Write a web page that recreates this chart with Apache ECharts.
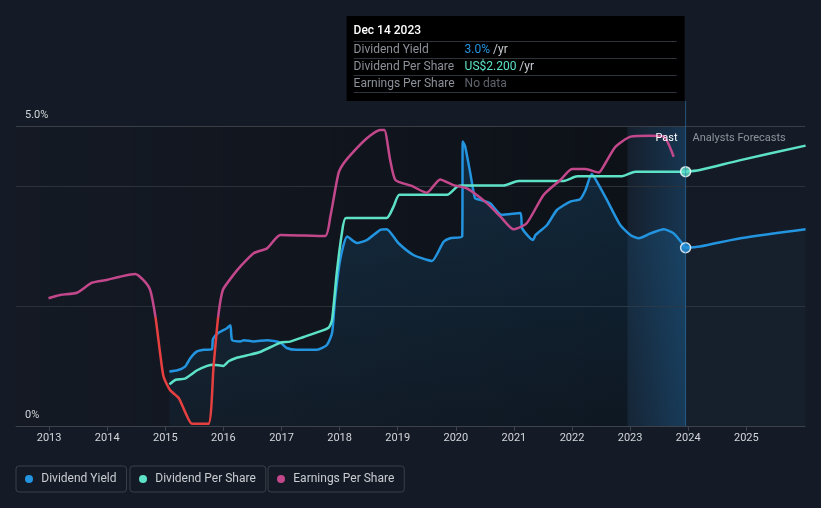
<!DOCTYPE html>
<html>
<head>
<meta charset="utf-8">
<script src="https://cdn.jsdelivr.net/npm/echarts@6/dist/echarts.min.js"></script>
<style>
html,body{margin:0;padding:0;background:#151b26;}
#chart{width:821px;height:508px;}
</style>
</head>
<body>
<div id="chart"></div>
<script>
// ---------- data ----------
const yearTicks = [2013,2014,2015,2016,2017,2018,2019,2020,2021,2022,2023,2024,2025];
const yieldTickLabels = {0: '0%', 5: '5.0%'};

const yieldYears = [2015.07,2015.21,2015.34,2015.43,2015.54,2015.66,2015.80,2015.82,2015.91,2016.06,2016.12,2016.15,2016.29,2016.35,2016.52,2016.75,2016.98,2017.09,2017.26,2017.61,2017.78,2017.87,2017.92,2018.01,2018.13,2018.30,2018.47,2018.70,2018.81,2019.01,2019.27,2019.50,2019.59,2019.79,2019.90,2020.11,2020.12,2020.16,2020.25,2020.33,2020.42,2020.59,2020.79,2021.11,2021.14,2021.25,2021.33,2021.37,2021.57,2021.74,2021.97,2022.14,2022.23,2022.34,2022.43,2022.60,2022.83,2023.01,2023.15,2023.35,2023.58,2023.75,2023.955];
const yieldValues = [0.91,0.93,0.99,1.13,1.24,1.27,1.28,1.45,1.55,1.63,1.68,1.43,1.41,1.43,1.41,1.43,1.39,1.30,1.27,1.27,1.35,1.55,2.10,2.77,3.16,3.05,3.10,3.27,3.28,3.05,2.85,2.77,2.75,3.07,3.13,3.16,4.74,4.66,4.21,3.80,3.77,3.71,3.52,3.55,3.30,3.16,3.10,3.18,3.35,3.60,3.74,3.78,3.93,4.20,4.07,3.77,3.35,3.18,3.13,3.21,3.28,3.21,2.97];
const yieldForecastYears = [2023.955,2024.20,2024.90,2026.02];
const yieldForecastValues = [2.97,2.99,3.13,3.28];

const dpsYears = [2015.07,2015.18,2015.34,2015.46,2015.54,2015.72,2015.83,2016.00,2016.09,2016.23,2016.40,2016.63,2016.98,2017.15,2017.38,2017.61,2017.81,2017.87,2017.95,2018.04,2018.11,2018.81,2018.93,2019.03,2019.85,2020.02,2020.11,2020.82,2021.08,2021.86,2022.09,2022.86,2023.09,2023.955];
const dpsValues = [0.36,0.40,0.41,0.45,0.48,0.52,0.53,0.52,0.56,0.59,0.61,0.64,0.72,0.73,0.77,0.81,0.85,0.92,1.32,1.67,1.80,1.80,1.90,2.00,2.00,2.07,2.08,2.08,2.12,2.12,2.16,2.16,2.20,2.20];
const dpsForecastYears = [2023.955,2024.20,2024.90,2026.02];
const dpsForecastValues = [2.20,2.215,2.30,2.425];

const epsYears = [2012.99,2013.19,2013.48,2013.74,2013.99,2014.22,2014.48,2014.62,2014.74,2014.83,2014.91,2014.97,2015.08,2015.23,2015.34,2015.46,2015.74,2015.83,2015.91,2015.99,2016.17,2016.29,2016.52,2016.75,2016.98,2017.75,2017.84,2017.98,2018.07,2018.24,2018.47,2018.70,2018.77,2018.87,2018.96,2019.24,2019.50,2019.73,2019.96,2020.19,2020.54,2020.77,2020.99,2021.22,2021.51,2021.80,2022.00,2022.23,2022.46,2022.54,2022.75,2023.01,2023.35,2023.58,2023.75];
const epsValues = [0.69,0.81,0.89,1.26,1.36,1.48,1.58,1.36,0.99,0.01,-1.32,-2.19,-2.68,-2.97,-3.48,-3.92,-3.92,-1.82,0.01,0.99,1.54,1.85,2.34,2.52,3.01,2.97,3.68,5.27,5.64,6.07,6.56,6.86,6.86,5.76,5.03,4.81,4.56,5.05,4.84,4.72,4.17,3.68,3.22,3.44,4.48,5.03,5.43,5.43,5.30,5.52,6.25,6.62,6.65,6.62,5.88];

const pastEnd = 2023.955;      // Dec 14 2023
const pastBandStart = 2022.955;
const tooltipDate = 'Dec 14 2023';
const tooltipYield = '3.0%';
const tooltipDps = 'US$2.200';

// ---------- helpers ----------
const zip = (xs, ys) => xs.map((x, i) => [x, ys[i]]);
const FONT = 'Roboto, "Noto Sans", sans-serif';
const C_YIELD = '#2394df', C_DPS = '#5de2c8', C_EPS = '#c3478b', C_NEG = '#e5403f';
const X_MIN = 2012.43, X_MAX = 2026.01;

const chart = echarts.init(document.getElementById('chart'), null, {renderer: 'canvas'});

const legendCommon = {
  orient: 'horizontal', top: 466, icon: 'circle', itemWidth: 14.6, itemHeight: 8,
  padding: [7, 10, 7, 9], borderColor: '#3a3f49', borderWidth: 1, borderRadius: 3,
  textStyle: {color: '#c9ccd1', fontSize: 12, fontFamily: FONT}, selectedMode: false
};

const option = {
  backgroundColor: '#151b26',
  animation: false,
  textStyle: {fontFamily: FONT},
  grid: {left: 16, right: 16, top: 126, bottom: 82, containLabel: false},
  xAxis: {
    type: 'value', min: X_MIN, max: X_MAX,
    axisLine: {show: true, lineStyle: {color: '#3d424c', width: 1}},
    axisTick: {show: true, length: 5, lineStyle: {color: '#3d424c'}, customValues: yearTicks},
    axisLabel: {color: '#d3d6da', fontSize: 11, margin: 7, customValues: yearTicks, formatter: v => String(Math.round(v))},
    splitLine: {show: false}
  },
  yAxis: [
    {
      type: 'value', min: 0, max: 5, interval: 1,
      axisLine: {show: false}, axisTick: {show: false},
      axisLabel: {
        inside: true, margin: 9, color: '#d3d6da', fontSize: 11,
        verticalAlign: 'bottom', padding: [0, 0, 5, 0],
        formatter: v => (yieldTickLabels[v] !== undefined ? yieldTickLabels[v] : '')
      },
      splitLine: {show: true, lineStyle: {width: 1, color: ['rgba(0,0,0,0)', 'rgba(0,0,0,0)', '#2a2f38', 'rgba(0,0,0,0)', '#2c313a', '#3a3e47']}}
    },
    {type: 'value', min: 0, max: 2.595, show: false},
    {type: 'value', min: -4, max: 7.01, show: false}
  ],
  visualMap: [{
    type: 'piecewise', show: false, seriesIndex: 4, dimension: 1,
    pieces: [{gt: -100, lte: 0, color: C_NEG}, {gt: 0, lte: 100, color: C_EPS}]
  }],
  legend: [
    Object.assign({}, legendCommon, {left: 16, data: [{name: 'Dividend Yield', itemStyle: {color: C_YIELD}}]}),
    Object.assign({}, legendCommon, {left: 130, data: [{name: 'Dividend Per Share', itemStyle: {color: C_DPS}}]}),
    Object.assign({}, legendCommon, {left: 268, data: [{name: 'Earnings Per Share', itemStyle: {color: C_EPS}}]})
  ],
  series: [
    {
      name: 'Dividend Yield', type: 'line', yAxisIndex: 0, z: 3,
      data: zip(yieldYears, yieldValues), showSymbol: false, symbol: 'none', smooth: 0.2,
      lineStyle: {color: C_YIELD, width: 2.5}, itemStyle: {color: C_YIELD},
      areaStyle: {color: new echarts.graphic.LinearGradient(0, 0, 0, 1, [{offset: 0, color: 'rgba(35,148,223,0.26)'}, {offset: 1, color: 'rgba(35,148,223,0.07)'}])}
    },
    {
      name: 'Dividend Yield', type: 'line', yAxisIndex: 0, z: 3,
      data: zip(yieldForecastYears, yieldForecastValues), showSymbol: false, symbol: 'none', smooth: 0.3,
      lineStyle: {color: C_YIELD, width: 2.5}, itemStyle: {color: C_YIELD},
      areaStyle: {color: 'rgba(60,120,180,0.08)'}
    },
    {
      name: 'Dividend Per Share', type: 'line', yAxisIndex: 1, z: 4,
      data: zip(dpsYears, dpsValues), showSymbol: false, symbol: 'none', smooth: 0.2,
      lineStyle: {color: C_DPS, width: 2.5}, itemStyle: {color: C_DPS}
    },
    {
      name: 'Dividend Per Share', type: 'line', yAxisIndex: 1, z: 4,
      data: zip(dpsForecastYears, dpsForecastValues), showSymbol: false, symbol: 'none', smooth: 0.3,
      lineStyle: {color: C_DPS, width: 2.5}, itemStyle: {color: C_DPS}
    },
    {
      name: 'Earnings Per Share', type: 'line', yAxisIndex: 2, z: 5,
      data: zip(epsYears, epsValues), showSymbol: false, symbol: 'none', smooth: 0.2,
      lineStyle: {width: 2.5}, itemStyle: {color: C_EPS}
    },
    {
      name: 'yieldNow', type: 'scatter', yAxisIndex: 0, z: 10, symbolSize: 10,
      data: [[pastEnd, yieldValues[yieldValues.length - 1]]],
      itemStyle: {color: C_YIELD, borderColor: '#ffffff', borderWidth: 1.5}
    },
    {
      name: 'dpsNow', type: 'scatter', yAxisIndex: 1, z: 10, symbolSize: 10,
      data: [[pastEnd, dpsValues[dpsValues.length - 1]]],
      itemStyle: {color: C_DPS, borderColor: '#ffffff', borderWidth: 1.5}
    }
  ]
};

chart.setOption(option);

// ---------- background bands, tooltip-like annotation and Past / Forecast labels ----------
const px = chart.convertToPixel({xAxisIndex: 0}, pastEnd);
const pxBand = chart.convertToPixel({xAxisIndex: 0}, pastBandStart);
const pxMin = chart.convertToPixel({xAxisIndex: 0}, X_MIN);
const py0 = chart.convertToPixel({yAxisIndex: 0}, 0);
const py5 = chart.convertToPixel({yAxisIndex: 0}, 5);
const boxW = 338, boxTop = 16, boxH = 85;
const bx = px - boxW - 1;
const labelStyle = {fill: '#8c9098', fontSize: 12, fontFamily: FONT, verticalAlign: 'middle'};
const sep = y => ({type: 'line', shape: {x1: bx + 7, y1: y, x2: bx + 330, y2: y}, style: {stroke: '#2f333b', lineWidth: 1}});
chart.setOption({
  graphic: [
    {type: 'rect', z: -10, silent: true, shape: {x: pxMin, y: py5, width: pxBand - pxMin, height: py0 - py5},
      style: {fill: new echarts.graphic.LinearGradient(0, 0, 1, 0, [{offset: 0, color: 'rgba(0,0,0,0.06)'}, {offset: 1, color: 'rgba(0,0,0,0.38)'}])}},
    {type: 'rect', z: -10, silent: true, shape: {x: pxBand, y: py5, width: px - pxBand, height: py0 - py5},
      style: {fill: new echarts.graphic.LinearGradient(0, 0, 1, 0, [{offset: 0, color: 'rgba(30,140,220,0.04)'}, {offset: 1, color: 'rgba(30,140,220,0.24)'}])}},
    {type: 'line', z: 50, shape: {x1: px, y1: boxTop + boxH, x2: px, y2: py0}, style: {stroke: 'rgba(45,130,190,0.55)', lineWidth: 1}},
    {type: 'group', z: 60, children: [
      {type: 'rect', shape: {x: bx, y: boxTop, width: boxW, height: boxH}, style: {fill: '#000000'}},
      {type: 'text', x: bx + 7, y: 31, style: {text: tooltipDate, fill: '#ffffff', fontSize: 12, fontWeight: 500, fontFamily: FONT, verticalAlign: 'middle'}},
      sep(41.5), sep(58.5), sep(75.5), sep(92.5),
      {type: 'text', x: bx + 7, y: 49.5, style: Object.assign({text: 'Dividend Yield'}, labelStyle)},
      {type: 'text', x: bx + 7, y: 66.5, style: Object.assign({text: 'Dividend Per Share'}, labelStyle)},
      {type: 'text', x: bx + 7, y: 84, style: Object.assign({text: 'Earnings Per Share'}, labelStyle)},
      {type: 'text', x: bx + 118, y: 49.5, style: {text: '{a|' + tooltipYield + '} {b|/yr}', verticalAlign: 'middle', fontFamily: FONT, fontSize: 12,
        rich: {a: {fill: C_YIELD, fontSize: 12, fontFamily: FONT}, b: {fill: '#c8cbd0', fontSize: 12, fontFamily: FONT}}}},
      {type: 'text', x: bx + 118, y: 66.5, style: {text: '{a|' + tooltipDps + '} {b|/yr}', verticalAlign: 'middle', fontFamily: FONT, fontSize: 12,
        rich: {a: {fill: C_DPS, fontSize: 12, fontFamily: FONT}, b: {fill: '#c8cbd0', fontSize: 12, fontFamily: FONT}}}},
      {type: 'text', x: bx + 118, y: 84, style: {text: 'No data', fill: '#5f636b', fontSize: 12, fontFamily: FONT, verticalAlign: 'middle'}}
    ]},
    {type: 'text', z: 40, x: px - 8, y: 138, style: {text: 'Past', fill: '#ffffff', fontSize: 11, fontFamily: FONT, align: 'right', verticalAlign: 'middle'}},
    {type: 'text', z: 40, x: px + 7, y: 138, style: {text: 'Analysts Forecasts', fill: '#8e939c', fontSize: 11, fontFamily: FONT, align: 'left', verticalAlign: 'middle'}}
  ]
});
</script>
</body>
</html>
